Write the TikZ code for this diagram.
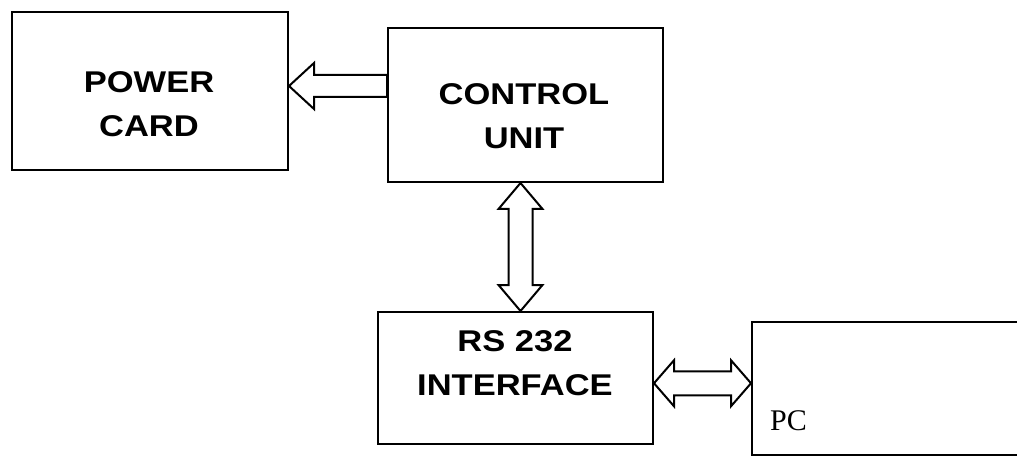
\documentclass[tikz,border=0pt]{standalone}
\usepackage{fontspec}
\setmainfont{Liberation Serif}
\newfontfamily\blockfont[FakeStretch=1.15]{Liberation Sans}
\usetikzlibrary{calc}

\begin{document}
\begin{tikzpicture}[x=1pt,y=1pt]
\useasboundingbox (0,0) rectangle (1017,464);
\clip (0,0) rectangle (1017,464);

\node[draw, line width=2pt, minimum width=276pt, minimum height=158pt] (power) at (150,373) {};
\node[draw, line width=2pt, minimum width=275pt, minimum height=154pt] (ctrl) at (525.5,359) {};
\node[draw, line width=2pt, minimum width=275pt, minimum height=132pt] (rs) at (515.5,86) {};
\node[draw, line width=2pt, minimum width=290pt, minimum height=133pt] (pc) at (897,75.5) {};

\node[align=center, font=\blockfont\bfseries\fontsize{30}{44}\selectfont] (powertxt) at (149,359.5) {POWER\\CARD};
\node[align=center, font=\blockfont\bfseries\fontsize{30}{44}\selectfont] (ctrltxt) at (524,348) {CONTROL\\UNIT};
\node[align=center, font=\blockfont\bfseries\fontsize{30}{44}\selectfont] (rstxt) at (515,100.5) {RS 232\\INTERFACE};
\node[anchor=base west, inner sep=0pt, font=\fontsize{30}{36}\selectfont] (pctxt) at (770,34) {PC};

\coordinate (pa) at ($(power.east)+(0,5)$);
\coordinate (va) at ($(ctrl.south)!0.5!(rs.north)$);
\coordinate (ha) at ($(rs.east)!0.5!(pc.west)$);

\draw[line width=2pt, fill=white, line join=miter] (pa) -- ++(25,23) -- ++(0,-12) -- ($(ctrl.west |- pa)+(0,11)$) -- ++(0,-22) -- ($(pa)+(25,-11)$) -- ++(0,-12) -- cycle;
\draw[line width=2pt, fill=white, line join=miter] (va |- ctrl.south) -- ++(22,-26) -- ++(-10,0) -- ($(va |- rs.north)+(12,26)$) -- ++(10,0) -- (va |- rs.north) -- ++(-22,26) -- ++(10,0) -- ($(va |- ctrl.south)+(-12,-26)$) -- ++(-10,0) -- cycle;
\draw[line width=2pt, fill=white, line join=miter] (rs.east |- ha) -- ++(20,23) -- ++(0,-11) -- ($(pc.west |- ha)+(-20,12)$) -- ++(0,11) -- (pc.west |- ha) -- ++(-20,-23) -- ++(0,11) -- ($(rs.east |- ha)+(20,-12)$) -- ++(0,-11) -- cycle;
\end{tikzpicture}
\end{document}
